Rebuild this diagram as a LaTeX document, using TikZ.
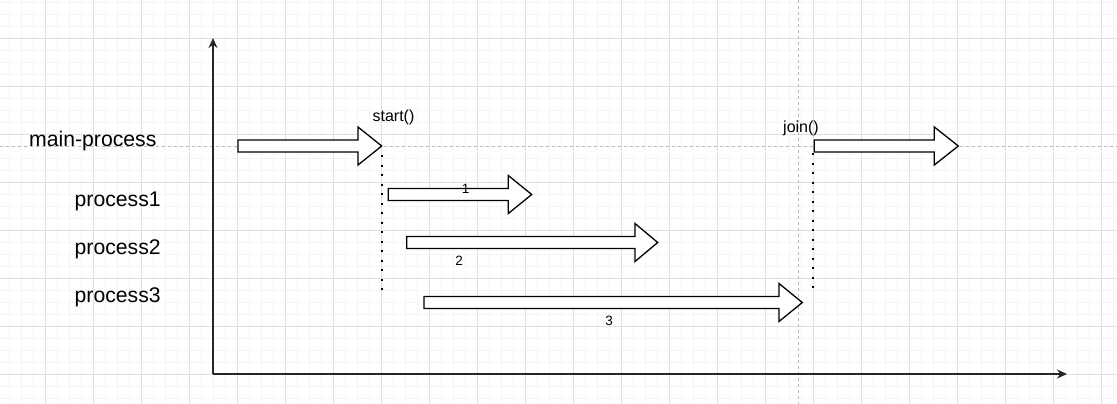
\documentclass[tikz,border=0pt]{standalone}
\usepackage{fontspec}
\setmainfont{Liberation Sans}
\usetikzlibrary{arrows.meta}
\definecolor{gridminor}{HTML}{F5F5F5}
\definecolor{gridmajor}{HTML}{E0E0E0}
\definecolor{guide}{HTML}{B8B8B8}
\tikzset{
  axisline/.style={line width=1.6pt, draw=black!85, -{Stealth[length=10pt,width=9pt]}},
  guideline/.style={draw=guide, line width=0.8pt, dash pattern=on 3pt off 3pt},
  blockarrow/.style={draw=black, line width=1.3pt, fill=white, line join=miter},
  dotline/.style={draw=black, line width=2.2pt, dash pattern=on 2.2pt off 7.3pt},
  biglabel/.style={font=\fontsize{21.2}{25}\selectfont, text=black, inner sep=0pt, anchor=west},
  smalllabel/.style={font=\fontsize{16}{19}\selectfont, text=black, inner sep=0pt},
  numlabel/.style={font=\fontsize{13.5}{16}\selectfont, text=black, inner sep=0pt}
}
% \barrow{x start}{head base x}{tip x}{y}
\newcommand{\barrow}[4]{%
  \draw[blockarrow] (#1,#4-6) -- (#2,#4-6) -- (#2,#4-19) -- (#3,#4)
    -- (#2,#4+19) -- (#2,#4+6) -- (#1,#4+6) -- cycle;}
\begin{document}
\begin{tikzpicture}[x=1pt,y=-1pt]
\useasboundingbox (0,0) rectangle (1117,404);
\fill[white] (0,0) rectangle (1117,404);
% minor grid
\foreach \i in {-1,...,94} {
  \draw[gridminor, line width=0.7pt] ({9.3+12*\i},0) -- ({9.3+12*\i},404);
}
\foreach \j in {-1,...,34} {
  \draw[gridminor, line width=0.7pt] (0,{2.3+12*\j}) -- (1117,{2.3+12*\j});
}
% major grid
\foreach \i in {-1,...,23} {
  \draw[gridmajor, line width=0.8pt] ({45.3+48*\i},0) -- ({45.3+48*\i},404);
}
\foreach \j in {0,...,8} {
  \draw[gridmajor, line width=0.8pt] (0,{38.3+48*\j}) -- (1117,{38.3+48*\j});
}
% guide lines
\coordinate (gl) at (0,146);
\coordinate (gr) at (1117,146);
\coordinate (gt) at (798.7,0);
\coordinate (gb) at (798.7,404);
\draw[guideline] (gl) -- (gr);
\draw[guideline] (gt) -- (gb);
% axes
\coordinate (origin) at (213,374);
\coordinate (ytip) at (213,38);
\coordinate (xtip) at (1067,374);
\draw[axisline] (origin) -- (ytip);
\draw[axisline] (origin) -- (xtip);
% dotted sync lines
\coordinate (s1) at (381.7,155);
\coordinate (s2) at (381.7,291);
\coordinate (j1) at (813.3,153);
\coordinate (j2) at (813.3,291);
\draw[dotline] (s1) -- (s2);
\draw[dotline] (j1) -- (j2);
% block arrows
\barrow{238}{358}{381.7}{146}
\barrow{388.3}{508.3}{531.7}{194.5}
\barrow{406.7}{635}{657.7}{242.5}
\barrow{424}{779}{802.3}{302.5}
\barrow{814.3}{934.3}{958.3}{146}
% labels
\node[biglabel] (lmain) at (29,141.5) {main-process};
\node[biglabel] (lp1) at (74.5,201.5) {process1};
\node[biglabel] (lp2) at (74.5,249.5) {process2};
\node[biglabel] (lp3) at (74.5,297.5) {process3};
\node[smalllabel] (lstart) at (393.5,117.5) {start()};
\node[smalllabel] (ljoin) at (801,128.5) {join()};
\node[numlabel] (n1) at (465.7,189) {1};
\node[numlabel] (n2) at (459,260.5) {2};
\node[numlabel] (n3) at (609,320.5) {3};
\end{tikzpicture}
\end{document}
